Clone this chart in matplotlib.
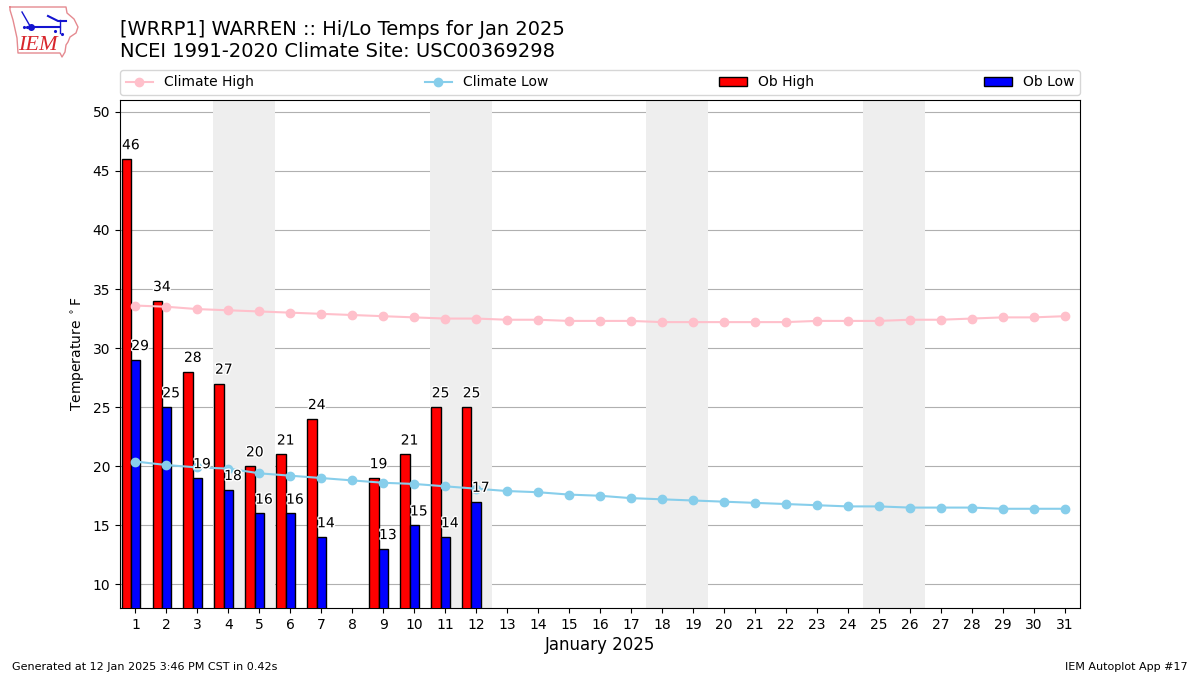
import numpy as np
import matplotlib
matplotlib.use("Agg")
import matplotlib.pyplot as plt
import matplotlib.patheffects as pe

days = np.arange(1, 32)
climate_high = [33.6, 33.5, 33.3, 33.2, 33.1, 33.0, 32.9, 32.8, 32.7, 32.6, 32.5,
                32.5, 32.4, 32.4, 32.3, 32.3, 32.3, 32.2, 32.2, 32.2, 32.2, 32.2,
                32.3, 32.3, 32.3, 32.4, 32.4, 32.5, 32.6, 32.6, 32.7]
climate_low = [20.4, 20.1, 19.9, 19.8, 19.4, 19.2, 19.0, 18.8, 18.6, 18.5, 18.3,
               18.1, 17.9, 17.8, 17.6, 17.5, 17.3, 17.2, 17.1, 17.0, 16.9, 16.8,
               16.7, 16.6, 16.6, 16.5, 16.5, 16.5, 16.4, 16.4, 16.4]
# day 8 has no observation
ob_days = np.array([1, 2, 3, 4, 5, 6, 7, 9, 10, 11, 12])
ob_high = [46, 34, 28, 27, 20, 21, 24, 19, 21, 25, 25]
ob_low = [29, 25, 19, 18, 16, 16, 14, 13, 15, 14, 17]
weekends = [(3.5, 5.5), (10.5, 12.5), (17.5, 19.5), (24.5, 26.5)]

fig = plt.figure(figsize=(12, 6.75), dpi=100)
ax = fig.add_axes([0.1, 67 / 675, 0.8, 508 / 675])

for start, end in weekends:
    ax.axvspan(start, end, color="#eeeeee", lw=0, zorder=1)

ax.plot(days, climate_high, color="pink", marker="o", label="Climate High", zorder=4)
ax.plot(days, climate_low, color="skyblue", marker="o", label="Climate Low", zorder=4)
ax.bar(ob_days - 0.3, ob_high, width=0.3, color="red", edgecolor="k", lw=1,
       label="Ob High", zorder=3)
ax.bar(ob_days, ob_low, width=0.3, color="blue", edgecolor="k", lw=1,
       label="Ob Low", zorder=3)

halo = [pe.withStroke(linewidth=2, foreground="white")]
for d, hi, lo in zip(ob_days, ob_high, ob_low):
    ax.text(d - 0.15, hi + 0.58, str(hi), ha="center", va="bottom", fontsize=10,
            zorder=5, path_effects=halo)
    ax.text(d + 0.15, lo + 0.58, str(lo), ha="center", va="bottom", fontsize=10,
            zorder=5, path_effects=halo)

ax.set_xlim(0.5, 31.5)
ax.set_ylim(8, 51)
ax.set_xticks(days)
ax.set_yticks(np.arange(10, 51, 5))
ax.grid(axis="y", color="#b0b0b0", lw=0.8, zorder=2)
ax.set_axisbelow(True)
ax.set_xlabel("January 2025", fontsize=12, labelpad=3)
ax.set_ylabel(r"Temperature $^\circ$F")
ax.legend(loc="lower left", bbox_to_anchor=(0, 1.01, 1, 0.05), ncol=4,
          mode="expand", borderaxespad=0, fontsize=10)

fig.text(0.1, 0.909, "[WRRP1] WARREN :: Hi/Lo Temps for Jan 2025\n"
         "NCEI 1991-2020 Climate Site: USC00369298", fontsize=14, ha="left", va="bottom")
fig.text(0.01, 0.008, "Generated at 12 Jan 2025 3:46 PM CST in 0.42s", fontsize=8)
fig.text(0.99, 0.008, "IEM Autoplot App #17", fontsize=8, ha="right")

# logo, rough outline of Iowa with the IEM mark, in pixel coordinates
logo = fig.add_axes([0, 1 - 60 / 675, 85 / 1200, 60 / 675])
logo.set_xlim(0, 85)
logo.set_ylim(60, 0)
logo.axis("off")
logo.plot([10, 66, 67, 74, 78, 76, 70, 68, 66, 65, 62, 60, 18, 17, 13, 10, 10],
          [7, 7, 13, 19, 27, 33, 37, 42, 45, 52, 57, 53, 53, 38, 20, 10, 7],
          color="#e58a90", lw=1)
logo.plot([31, 60], [27, 27], color="#1414d0", lw=1.5)
logo.plot([60, 60], [20, 33], color="#1414d0", lw=1)
logo.plot([22, 26, 30], [12, 19, 26], color="#1414d0", lw=1)
logo.plot([48, 58, 66], [16, 21, 21], color="#1414d0", lw=1.5)
logo.plot([31], [27], "o", color="#1414d0", ms=4)
logo.plot([24, 27, 55, 62], [27, 27, 31, 34], ".", color="#1414d0", ms=2.5)
logo.text(37.5, 45, "IEM", color="#d8262c", fontsize=16, family="Liberation Serif",
          style="italic", ha="center", va="center")

fig.savefig("out.png", dpi=100)
